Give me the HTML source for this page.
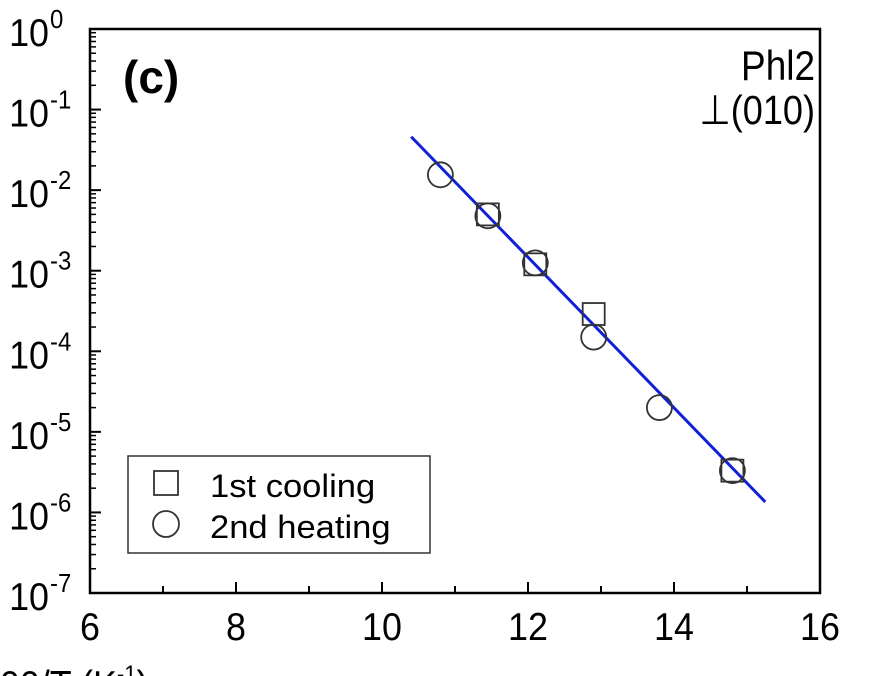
<!DOCTYPE html>
<html><head><meta charset="utf-8"><style>
html,body{margin:0;padding:0;background:#fff;position:relative;}
svg{display:block;font-family:"Liberation Sans",Arial,sans-serif;}
</style></head><body>
<svg id="chart" width="890" height="676" viewBox="0 0 890 676" xmlns="http://www.w3.org/2000/svg"></svg>
<script>
const xTicks=[6,8,10,12,14,16];
const yExps=[0,-1,-2,-3,-4,-5,-6,-7];
const coolX=[11.45,12.1,12.9,14.8];
const coolY=[5e-3,1.2e-3,2.9e-4,3.3e-6];
const heatX=[10.8,11.45,12.1,12.9,13.8,14.8];
const heatY=[1.55e-2,4.8e-3,1.25e-3,1.5e-4,2e-5,3.3e-6];
const fitX=[10.4,15.25];
const fitY=[4.6e-2,1.35e-6];

const L=90,R=820,T=29,B=593;
const sx=v=>L+(v-6)/(16-6)*(R-L);
const sy=v=>T+(0-Math.log10(v))/7*(B-T);
const svg=document.getElementById('chart');
const NS='http://www.w3.org/2000/svg';
function mk(tag,attrs,parent){const e=document.createElementNS(NS,tag);for(const k in attrs)e.setAttribute(k,attrs[k]);(parent||svg).appendChild(e);return e;}

const frame=mk('rect',{x:L,y:T,width:R-L,height:B-T,fill:'none',stroke:'#000','stroke-width':2.5});



for(let v=6;v<=16;v++){
  const major=v%2===0;
  const t=mk('line',{x1:sx(v),x2:sx(v),y1:B,y2:B-(major?11:7),stroke:'#000','stroke-width':2});
  
  
}
xTicks.forEach(v=>{
  const t=mk('text',{transform:'translate('+sx(v)+',640) scale(0.92,1)','font-size':39,'text-anchor':'middle'});
  t.textContent=v;
  
  
});
for(let e=0;e>=-7;e--){
  const y=sy(Math.pow(10,e));
  const t=mk('line',{x1:L,x2:L+11,y1:y,y2:y,stroke:'#000','stroke-width':2});
  
  
  if(e>-7){for(let m=2;m<=9;m++){const ym=sy(m*Math.pow(10,e-1));const mt=mk('line',{x1:L,x2:L+6,y1:ym,y2:ym,stroke:'#000','stroke-width':1.5});
    
    }}
}
yExps.forEach(e=>{
  const y=sy(Math.pow(10,e));
  const t=mk('text',{transform:'translate(49,'+(y+17)+') scale(0.92,1)','font-size':39,'text-anchor':'end'});
  t.textContent='10';
  
  
  const s=mk('text',{transform:'translate(50,'+(y-1)+') scale(0.92,1)','font-size':26});
  s.textContent=String(e);
  
  
});

const fl=mk('line',{x1:sx(fitX[0]),y1:sy(fitY[0]),x2:sx(fitX[1]),y2:sy(fitY[1]),stroke:'#1020d8','stroke-width':3});



coolX.forEach((x,i)=>{
  const r=mk('rect',{x:sx(x)-11,y:sy(coolY[i])-11,width:22,height:22,fill:'none',stroke:'#333','stroke-width':1.8});
  
  
});
heatX.forEach((x,i)=>{
  const c=mk('circle',{cx:sx(x),cy:sy(heatY[i]),r:12.5,fill:'none',stroke:'#333','stroke-width':1.8});
  
  
});
</script>
<svg style="position:absolute;left:0;top:0" width="890" height="676" font-family="Liberation Sans,sans-serif">
<text x="123" y="93" font-size="46" font-weight="bold">(c)</text>
<text transform="translate(815,80) scale(0.88,1)" font-size="42" text-anchor="end">Phl2</text>
<text transform="translate(815,124) scale(0.88,1)" font-size="41" text-anchor="end">⊥(010)</text>
<g>
<rect x="128" y="456" width="302" height="97" fill="#fff" stroke="#333" stroke-width="1.5"/>
<rect x="154" y="471" width="24" height="24" fill="none" stroke="#333" stroke-width="1.8"/>
<text transform="translate(210,497) scale(1.08,1)" font-size="32">1st cooling</text>
<circle cx="166" cy="524" r="13" fill="none" stroke="#333" stroke-width="1.8"/>
<text transform="translate(210,538) scale(1.08,1)" font-size="32">2nd heating</text>
</g>
<text transform="translate(-40,698) scale(0.92,1)" font-size="39">1000/T (K<tspan font-size="24" dy="-16">-1</tspan><tspan dy="16">)</tspan></text>
</svg>
</body></html>
